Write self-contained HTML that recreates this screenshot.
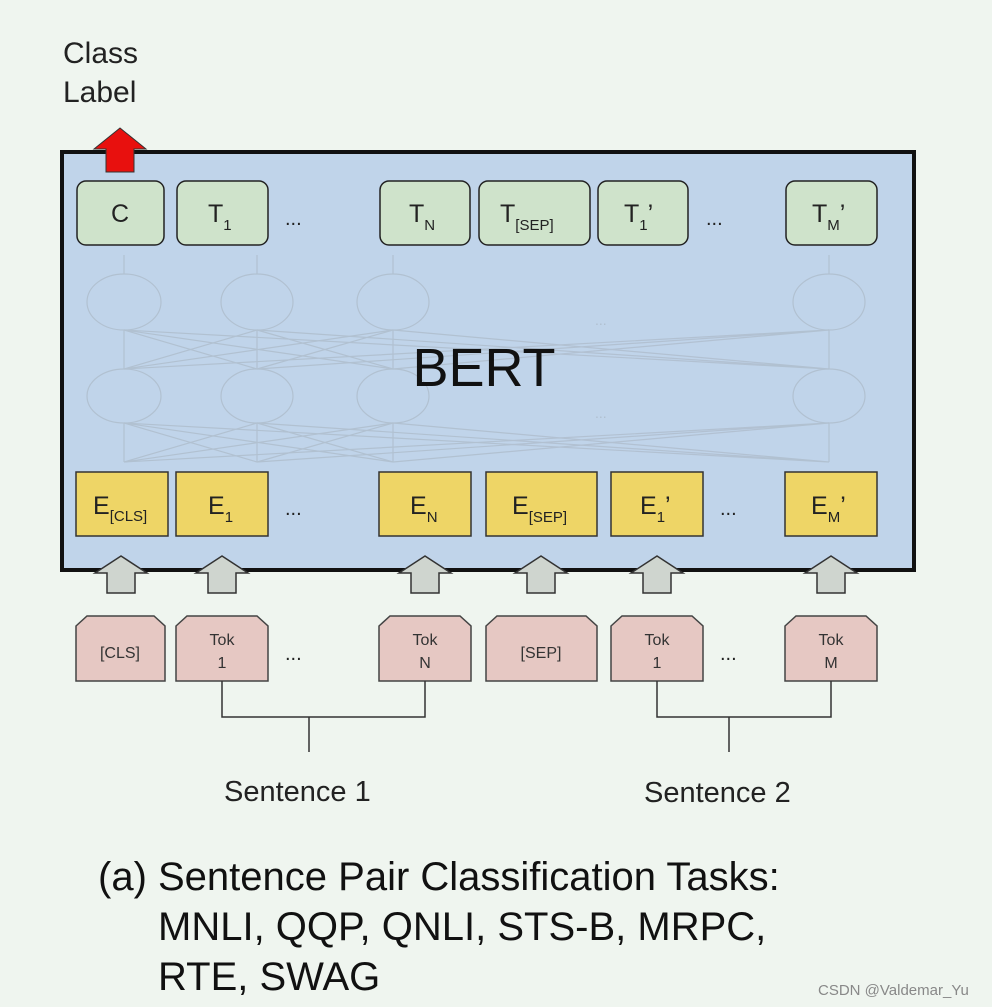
<!DOCTYPE html>
<html><head><meta charset="utf-8"><style>
body{margin:0;background:#eff5ef;}
svg{display:block;font-family:"Liberation Sans",Arial,sans-serif;}
</style></head><body>
<svg width="992" height="1007" viewBox="0 0 992 1007">
<rect width="992" height="1007" fill="#eff5ef"/>
<text x="63" y="63" font-size="30" fill="#222">Class</text>
<text x="63" y="102" font-size="30" fill="#222">Label</text>
<rect x="62" y="152" width="852" height="418" fill="#c0d4ea" stroke="#111" stroke-width="4"/>
<!-- faint network -->
<g stroke="#b0bfcf" stroke-width="1.2" fill="none" opacity="0.9">
<ellipse cx="124" cy="302" rx="37" ry="28"/><ellipse cx="257" cy="302" rx="36" ry="28"/><ellipse cx="393" cy="302" rx="36" ry="28"/><ellipse cx="829" cy="302" rx="36" ry="28"/>
<ellipse cx="124" cy="396" rx="37" ry="27"/><ellipse cx="257" cy="396" rx="36" ry="27"/><ellipse cx="393" cy="396" rx="36" ry="27"/><ellipse cx="829" cy="396" rx="36" ry="27"/>
<line x1="124" y1="274" x2="124" y2="255"/><line x1="257" y1="274" x2="257" y2="255"/><line x1="393" y1="274" x2="393" y2="255"/><line x1="829" y1="274" x2="829" y2="255"/>
<line x1="124" y1="369" x2="124" y2="330"/><line x1="257" y1="369" x2="257" y2="330"/><line x1="393" y1="369" x2="393" y2="330"/><line x1="829" y1="369" x2="829" y2="330"/>
<line x1="124" y1="462" x2="124" y2="423"/><line x1="257" y1="462" x2="257" y2="423"/><line x1="393" y1="462" x2="393" y2="423"/><line x1="829" y1="462" x2="829" y2="423"/>
<path d="M124 369L257 330M124 369L393 330M124 369L829 330M257 369L124 330M257 369L393 330M257 369L829 330M393 369L124 330M393 369L257 330M393 369L829 330M829 369L124 330M829 369L257 330M829 369L393 330"/>
<path d="M124 462L257 423M124 462L393 423M124 462L829 423M257 462L124 423M257 462L393 423M257 462L829 423M393 462L124 423M393 462L257 423M393 462L829 423M829 462L124 423M829 462L257 423M829 462L393 423"/>
</g>
<text x="595" y="325" font-size="14" fill="#b0bfcf">...</text>
<text x="595" y="418" font-size="14" fill="#b0bfcf">...</text>
<text x="484" y="386" font-size="54" fill="#111" text-anchor="middle">BERT</text>
<!-- red arrow -->
<polygon points="120,128 146,149 134,149 134,172 106,172 106,149 94,149" fill="#e8100e" stroke="#333" stroke-width="1"/>
<!-- T boxes -->
<g fill="#cfe3cb" stroke="#222" stroke-width="1.5">
<rect x="77" y="181" width="87" height="64" rx="9"/><rect x="177" y="181" width="91" height="64" rx="9"/>
<rect x="380" y="181" width="90" height="64" rx="9"/><rect x="479" y="181" width="111" height="64" rx="9"/>
<rect x="598" y="181" width="90" height="64" rx="9"/><rect x="786" y="181" width="91" height="64" rx="9"/>
</g>
<g fill="#222" font-size="25">
<text x="120" y="222" text-anchor="middle">C</text>
<text x="208" y="222">T<tspan font-size="15" dy="8">1</tspan></text>
<text x="409" y="222">T<tspan font-size="15" dy="8">N</tspan></text>
<text x="500" y="222">T<tspan font-size="15" dy="8">[SEP]</tspan></text>
<text x="624" y="222">T<tspan font-size="15" dy="8">1</tspan><tspan dy="-8">’</tspan></text>
<text x="812" y="222">T<tspan font-size="15" dy="8">M</tspan><tspan dy="-8">’</tspan></text>
<text x="285" y="225" font-size="20">...</text>
<text x="706" y="225" font-size="20">...</text>
<text x="285" y="515" font-size="20">...</text>
<text x="720" y="515" font-size="20">...</text>
<text x="285" y="660" font-size="20">...</text>
<text x="720" y="660" font-size="20">...</text>
</g>
<!-- E boxes -->
<g fill="#eed566" stroke="#333" stroke-width="1.5">
<rect x="76" y="472" width="92" height="64"/><rect x="176" y="472" width="92" height="64"/>
<rect x="379" y="472" width="92" height="64"/><rect x="486" y="472" width="111" height="64"/>
<rect x="611" y="472" width="92" height="64"/><rect x="785" y="472" width="92" height="64"/>
</g>
<g fill="#222" font-size="25">
<text x="93" y="514">E<tspan font-size="15" dy="7">[CLS]</tspan></text>
<text x="208" y="514">E<tspan font-size="15" dy="8">1</tspan></text>
<text x="410" y="514">E<tspan font-size="15" dy="8">N</tspan></text>
<text x="512" y="514">E<tspan font-size="15" dy="8">[SEP]</tspan></text>
<text x="640" y="514">E<tspan font-size="15" dy="8">1</tspan><tspan dy="-8">’</tspan></text>
<text x="811" y="514">E<tspan font-size="15" dy="8">M</tspan><tspan dy="-8">’</tspan></text>
</g>
<!-- gray arrows -->
<g fill="#cfd5cf" stroke="#333" stroke-width="1.5">
<polygon points="121,556 147,573 135,573 135,593 107,593 107,573 95,573"/>
<polygon points="222,556 248,573 236,573 236,593 208,593 208,573 196,573"/>
<polygon points="425,556 451,573 439,573 439,593 411,593 411,573 399,573"/>
<polygon points="541,556 567,573 555,573 555,593 527,593 527,573 515,573"/>
<polygon points="657,556 683,573 671,573 671,593 643,593 643,573 631,573"/>
<polygon points="831,556 857,573 845,573 845,593 817,593 817,573 805,573"/>
</g>
<!-- Tok boxes -->
<g fill="#e6c8c3" stroke="#444" stroke-width="1.5">
<polygon points="76,626 87,616 154,616 165,626 165,681 76,681"/>
<polygon points="176,626 187,616 257,616 268,626 268,681 176,681"/>
<polygon points="379,626 390,616 460,616 471,626 471,681 379,681"/>
<polygon points="486,626 497,616 586,616 597,626 597,681 486,681"/>
<polygon points="611,626 622,616 692,616 703,626 703,681 611,681"/>
<polygon points="785,626 796,616 866,616 877,626 877,681 785,681"/>
</g>
<g fill="#333" font-size="16" text-anchor="middle">
<text x="120" y="658">[CLS]</text>
<text x="222" y="645">Tok</text><text x="222" y="668">1</text>
<text x="425" y="645">Tok</text><text x="425" y="668">N</text>
<text x="541" y="658">[SEP]</text>
<text x="657" y="645">Tok</text><text x="657" y="668">1</text>
<text x="831" y="645">Tok</text><text x="831" y="668">M</text>
</g>
<g stroke="#333" stroke-width="1.5" fill="none">
<path d="M222 681V717H425V681M309 717V752"/>
<path d="M657 681V717H831V681M729 717V752"/>
</g>
<text x="224" y="801" font-size="29" fill="#222">Sentence 1</text>
<text x="644" y="802" font-size="29" fill="#222">Sentence 2</text>
<text x="98" y="890" font-size="40" fill="#111">(a) Sentence Pair Classification Tasks:</text>
<text x="158" y="940" font-size="40" fill="#111">MNLI, QQP, QNLI, STS-B, MRPC,</text>
<text x="158" y="990" font-size="40" fill="#111">RTE, SWAG</text>
<text x="818" y="995" font-size="15" fill="#888">CSDN @Valdemar_Yu</text>
</svg>
</body></html>
